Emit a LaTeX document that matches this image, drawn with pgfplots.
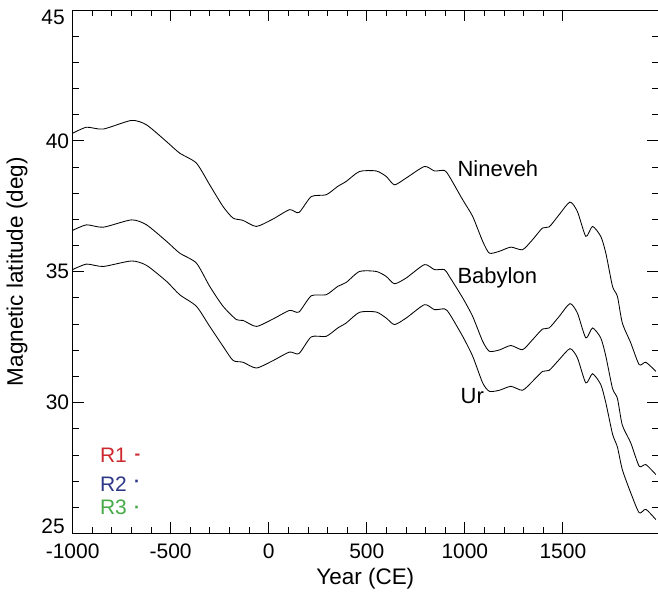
\documentclass[border=0pt]{standalone}
\usepackage{fontspec}
\setmainfont{Liberation Sans}
\usepackage{pgfplots}
\pgfplotsset{compat=1.18}
\definecolor{rone}{RGB}{205,40,45}
\definecolor{rtwo}{RGB}{45,55,135}
\definecolor{rthree}{RGB}{70,170,70}
\newcommand{\bigf}{\fontsize{21}{25}\selectfont}
\newcommand{\labf}{\fontsize{22.5}{27}\selectfont}
\begin{document}
\begin{tikzpicture}
\begin{axis}[name=ax, scale only axis, width=586pt, height=524pt,
  clip mode=individual,
  xmin=-1000, xmax=1985, ymin=25, ymax=45,
  xtick={-1000,-500,0,500,1000,1500},
  xticklabels={-1000,-500,0,500,1000,1500},
  minor x tick num=4,
  ytick={25,30,35,40,45}, yticklabels={,30,35,40,},
  minor y tick num=4,
  tick align=inside, major tick length=11pt, minor tick length=6pt,
  every tick/.style={black, line width=0.8pt},
  axis line style={line width=0.9pt},
  tick label style={font=\bigf},
  xticklabel style={yshift=-6.5pt},
  /pgf/number format/assume math mode=true,
  xlabel={Year (CE)}, ylabel={Magnetic latitude (deg)},
  every axis x label/.style={at={(axis description cs:0.5,-0.086)}, anchor=center, font=\labf},
  every axis y label/.style={at={(axis description cs:-0.095,0.5)}, rotate=90, anchor=center, font=\labf},
]
\addplot[black, line width=0.85pt, smooth, tension=0.4] coordinates {
(-1000,40.29) (-929,40.52) (-844,40.45) (-700,40.78) (-623,40.61) (-521,39.97)
(-454,39.53) (-369,39.15) (-301,38.32) (-233,37.49) (-182,37.05) (-131,36.96)
(-63,36.73) (21,37.01) (106,37.37) (154,37.26) (217,37.87) (293,37.94)
(352,38.26) (395,38.45) (463,38.83) (548,38.85) (599,38.64) (641,38.32)
(701,38.58) (794,39.02) (845,38.85) (896,38.87) (921,38.64) (989,37.75)
(1040,37.11) (1091,36.16) (1125,35.71) (1176,35.78) (1235,35.94) (1294,35.84)
(1345,36.22) (1396,36.67) (1430,36.71) (1481,37.18) (1536,37.66) (1574,37.30)
(1617,36.35) (1651,36.73) (1693,36.35) (1719,35.71) (1753,34.44) (1778,34.06)
(1803,33.04) (1846,32.28) (1889,31.45) (1923,31.54) (1974,31.19)
};
\addplot[black, line width=0.85pt, smooth, tension=0.4] coordinates {
(-1000,36.58) (-929,36.79) (-844,36.70) (-700,36.98) (-623,36.79) (-521,36.16)
(-454,35.71) (-369,35.33) (-301,34.44) (-233,33.68) (-165,33.17) (-131,33.14)
(-63,32.91) (21,33.19) (106,33.52) (154,33.46) (217,34.08) (293,34.12)
(352,34.44) (395,34.59) (463,35.01) (548,35.01) (599,34.82) (641,34.54)
(701,34.76) (794,35.27) (845,35.08) (896,35.08) (921,34.82) (989,34.00)
(1040,33.29) (1091,32.34) (1125,31.96) (1176,32.01) (1235,32.18) (1294,32.02)
(1345,32.40) (1396,32.81) (1430,32.85) (1481,33.29) (1536,33.78) (1574,33.42)
(1617,32.47) (1651,32.85) (1693,32.47) (1719,31.77) (1753,30.54) (1778,30.16)
(1803,29.14) (1846,28.46) (1889,27.57) (1923,27.63) (1974,27.25)
};
\addplot[black, line width=0.85pt, smooth, tension=0.4] coordinates {
(-1000,35.08) (-929,35.29) (-844,35.20) (-700,35.41) (-623,35.24) (-521,34.63)
(-454,34.12) (-369,33.68) (-301,32.91) (-233,32.15) (-182,31.61) (-131,31.54)
(-63,31.32) (21,31.60) (106,31.93) (154,31.87) (217,32.51) (293,32.53)
(352,32.85) (395,33.04) (463,33.45) (548,33.46) (599,33.23) (641,32.98)
(701,33.23) (794,33.74) (845,33.55) (896,33.58) (921,33.40) (989,32.53)
(1040,31.77) (1091,30.75) (1125,30.43) (1176,30.47) (1235,30.62) (1294,30.47)
(1345,30.81) (1396,31.19) (1430,31.23) (1481,31.64) (1536,32.06) (1574,31.71)
(1617,30.75) (1651,31.10) (1693,30.69) (1719,29.99) (1753,28.80) (1778,28.30)
(1803,27.44) (1846,26.55) (1889,25.79) (1923,25.92) (1974,25.53)
};
\node[anchor=west, inner sep=0pt, font=\fontsize{22}{26}\selectfont] at (axis cs:962,38.93) {Nineveh};
\node[anchor=west, inner sep=0pt, font=\fontsize{22}{26}\selectfont] at (axis cs:962,34.77) {Babylon};
\node[anchor=west, inner sep=0pt, font=\fontsize{22}{26}\selectfont] at (axis cs:978,30.23) {Ur};
\node[anchor=west, inner sep=0pt, font=\bigf, text=rone] at (axis cs:-861,28.0) {R1};
\node[anchor=west, inner sep=0pt, font=\bigf, text=rtwo] at (axis cs:-861,26.89) {R2};
\node[anchor=west, inner sep=0pt, font=\bigf, text=rthree] at (axis cs:-861,25.99) {R3};
\node[anchor=base, inner sep=0pt, font=\fontsize{17}{19}\selectfont\bfseries, text=rone] at (axis cs:-670,27.84) {-};
\node[anchor=base, inner sep=0pt, font=\fontsize{18}{20}\selectfont\bfseries, text=rtwo] at (axis cs:-671,26.75) {·};
\node[anchor=base, inner sep=0pt, font=\fontsize{18}{20}\selectfont\bfseries, text=rthree] at (axis cs:-671,25.76) {·};
\node[anchor=south east, inner sep=0pt, xshift=-7.7pt, font=\bigf] at (axis cs:-1000,25) {25};
\node[anchor=north east, inner sep=0pt, xshift=-7.7pt, font=\bigf] at (axis cs:-1000,45) {45};
\end{axis}
\pgfresetboundingbox
\path ([xshift=-72.7pt, yshift=-59pt]ax.south west) rectangle ([yshift=10pt]ax.north east);
\end{tikzpicture}
\end{document}
